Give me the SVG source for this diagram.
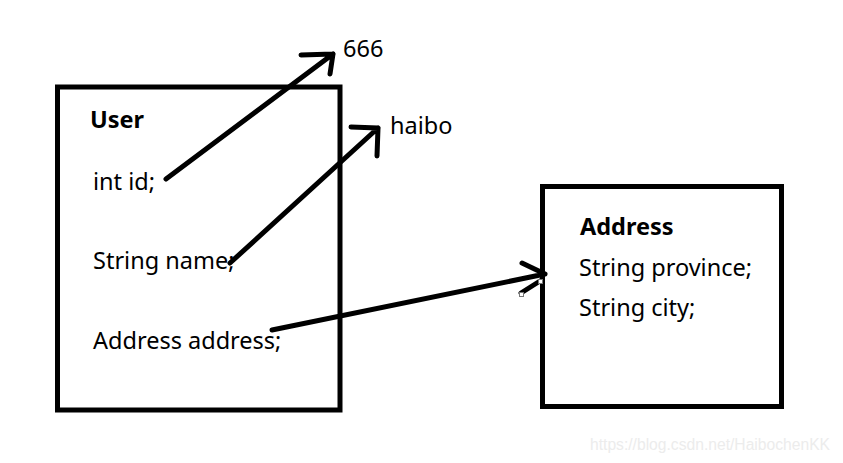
<svg xmlns="http://www.w3.org/2000/svg" width="843" height="463" viewBox="0 0 843 463">
<style>
.box{fill:#fff;stroke:#000;stroke-width:5}
.t{font-family:"Noto Sans","Open Sans",sans-serif;font-size:23.5px;fill:#000}
.b{font-weight:bold}
.ln{fill:none;stroke:#000;stroke-width:5;stroke-linecap:round;stroke-linejoin:round}
.h{fill:#fff;stroke:#777;stroke-width:1}
.wm{font-family:"Liberation Sans",Arial,sans-serif;font-size:16px;fill:#ececec}
</style>
<rect width="843" height="463" fill="#fff"/>
<g id="user">
<rect class="box" x="57.5" y="87" width="282.5" height="323"/>
<text class="t b" x="90" y="128">User</text>
<text class="t" x="93" y="190">int id;</text>
<text class="t" x="93" y="269">String name;</text>
<text class="t" x="93" y="349">Address address;</text>
</g>
<g id="address">
<rect class="box" x="542.5" y="186.5" width="239" height="220"/>
<text class="t b" x="580" y="235">Address</text>
<text class="t" x="579" y="276">String province;</text>
<text class="t" x="579" y="316">String city;</text>
</g>
<g id="v666"><text class="t" x="343" y="57">666</text></g>
<g id="vhaibo"><text class="t" x="390" y="134">haibo</text></g>
<g id="connectors">
<path class="ln" d="M166,179 L333,54 M301,55 L333,54 L330,74"/>
<path class="ln" d="M230,263 L378,128 M351,127 L378,128 L377,156"/>
<path class="ln" d="M272,330 L545,274 M522,263 L545,274 M540,281 L521,293"/>
<rect class="h" x="538.5" y="279.5" width="4" height="4"/>
<rect class="h" x="519.5" y="292.5" width="4" height="4"/>
</g>
<text class="wm" x="590" y="450" textLength="240" lengthAdjust="spacingAndGlyphs">https://blog.csdn.net/HaibochenKK</text>
</svg>
